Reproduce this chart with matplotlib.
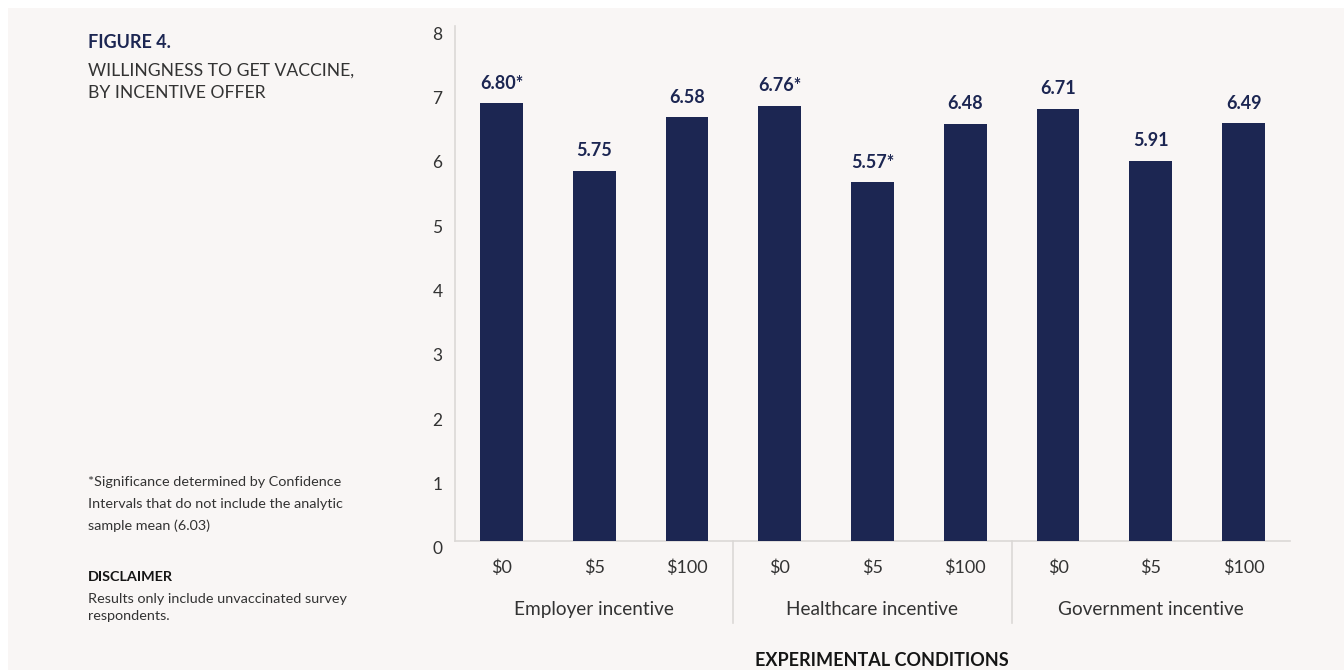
import matplotlib
matplotlib.use("Agg")
import matplotlib.pyplot as plt
from matplotlib.patches import Rectangle
from matplotlib.transforms import ScaledTranslation, blended_transform_factory

# ------------------------------------------------------------
# DATA
# ------------------------------------------------------------
groups = ["Employer incentive", "Healthcare incentive", "Government incentive"]
amounts = ["$0", "$5", "$100"]
employer = [6.80, 5.75, 6.58]
healthcare = [6.76, 5.57, 6.48]
government = [6.71, 5.91, 6.49]
employer_sig = [True, False, False]
healthcare_sig = [True, True, False]
government_sig = [False, False, False]
y_ticks = [0, 1, 2, 3, 4, 5, 6, 7, 8]

# ------------------------------------------------------------
# STYLE
# ------------------------------------------------------------
plt.rcParams["font.family"] = ["Lato", "DejaVu Sans"]
BG = "#f9f6f5"
NAVY = "#1c2652"
TEXT = "#333333"
GRID = "#dbd8d6"

W, H = 1344, 670


def px(x, y):
    return x / W, 1 - y / H


fig = plt.figure(figsize=(W / 100, H / 100), dpi=100, facecolor="white")
fig.patches.append(Rectangle((8 / W, 0), 1, 1 - 8 / H, transform=fig.transFigure,
                             facecolor=BG, edgecolor="none", zorder=-10))

left, right = 455 / W, 1290 / W
bottom, top = 1 - 541 / H, 1 - 26 / H
ax = fig.add_axes([left, bottom, right - left, top - bottom])
ax.set_facecolor("none")

values = employer + healthcare + government
sig = employer_sig + healthcare_sig + government_sig
labels = amounts * len(groups)
xs = list(range(len(values)))

ax.bar(xs, values, width=0.46, color=NAVY, zorder=3)

for x, v, s in zip(xs, values, sig):
    ax.annotate(f"{v:.2f}" + ("*" if s else ""), xy=(x, v), xytext=(0, 14.5),
                textcoords="offset points", ha="center", va="center",
                fontsize=13, fontweight="bold", color=NAVY)

ax.set_xlim(-0.5, len(values) - 0.5)
ax.set_ylim(0, 8)
ax.set_yticks(y_ticks)
ax.set_xticks(xs)
ax.set_xticklabels(labels)
ax.tick_params(axis="y", length=0, pad=9, labelsize=12.5, labelcolor=TEXT)
ax.tick_params(axis="x", length=0, pad=13, labelsize=13, labelcolor=TEXT)
offset = ScaledTranslation(0, -7 / 100, fig.dpi_scale_trans)
for lab in ax.get_yticklabels():
    lab.set_transform(lab.get_transform() + offset)

for side in ["top", "right"]:
    ax.spines[side].set_visible(False)
for side in ["left", "bottom"]:
    ax.spines[side].set_color(GRID)
    ax.spines[side].set_linewidth(1.2)

# group labels and separators
trans = blended_transform_factory(ax.transData, ax.transAxes)
n = len(amounts)
for gi, g in enumerate(groups):
    center = gi * n + (n - 1) / 2
    ax.annotate(g, xy=(center, 0), xycoords=trans, xytext=(0, -49.5),
                textcoords="offset points", ha="center", va="center",
                fontsize=13.7, color=TEXT)
    if gi > 0:
        sep = gi * n - 0.5
        ax.plot([sep, sep], [0, -82 / 515], transform=trans, color=GRID,
                lw=1.2, clip_on=False)

fig.text(*px(882, 660), "EXPERIMENTAL CONDITIONS", ha="center", va="center",
         fontsize=13, fontweight="bold", color="#151515")

# left panel texts
fig.text(*px(88, 43), "FIGURE 4.", ha="left", va="center", fontsize=13,
         fontweight="bold", color=NAVY)
fig.text(*px(88, 71), "WILLINGNESS TO GET VACCINE,", ha="left", va="center",
         fontsize=12.6, color=TEXT)
fig.text(*px(88, 93), "BY INCENTIVE OFFER", ha="left", va="center",
         fontsize=12.6, color=TEXT)

note_size = 10.4
fig.text(*px(88, 482), "*Significance determined by Confidence", ha="left",
         va="center", fontsize=note_size, color=TEXT)
fig.text(*px(88, 504), "Intervals that do not include the analytic", ha="left",
         va="center", fontsize=note_size, color=TEXT)
fig.text(*px(88, 526), "sample mean (6.03)", ha="left", va="center",
         fontsize=note_size, color=TEXT)
fig.text(*px(88, 577), "DISCLAIMER", ha="left", va="center", fontsize=note_size,
         fontweight="bold", color="#151515")
fig.text(*px(88, 599), "Results only include unvaccinated survey", ha="left",
         va="center", fontsize=note_size, color=TEXT)
fig.text(*px(88, 616), "respondents.", ha="left", va="center",
         fontsize=note_size, color=TEXT)

fig.savefig("out.png", dpi=100, facecolor=fig.get_facecolor())
